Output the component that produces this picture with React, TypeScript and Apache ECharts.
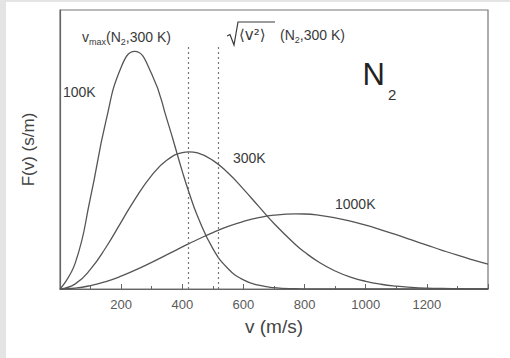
import React, { useEffect, useRef } from "react";
import * as echarts from "echarts";

// speeds (m/s) at which the curves were read (extra samples at the peaks)
const speeds = [0, 50, 100, 150, 200, 244, 300, 350, 400, 422, 450, 500, 550, 600, 650, 700, 770, 800, 850, 900, 950, 1000, 1050, 1100, 1150, 1200, 1250, 1300, 1350, 1400];
// F(v) in 1e-3 s/m
const f100K = [0, 0.374, 1.318, 2.402, 3.18, 3.407, 3.083, 2.428, 1.687, 1.384, 1.044, 0.579, 0.29, 0.131, 0.054, 0.02, 0.004, 0.002, 0, 0, 0, 0, 0, 0, 0, 0, 0, 0, 0, 0];
const f300K = [0, 0.074, 0.284, 0.595, 0.959, 1.279, 1.63, 1.848, 1.956, 1.967, 1.95, 1.844, 1.662, 1.432, 1.184, 0.94, 0.638, 0.529, 0.376, 0.258, 0.171, 0.11, 0.068, 0.041, 0.024, 0.013, 0.007, 0.004, 0.002, 0.001];
const f1000K = [0, 0.012, 0.049, 0.107, 0.184, 0.266, 0.382, 0.492, 0.603, 0.651, 0.71, 0.809, 0.897, 0.968, 1.023, 1.059, 1.077, 1.075, 1.056, 1.021, 0.974, 0.916, 0.849, 0.778, 0.703, 0.629, 0.555, 0.484, 0.418, 0.356];
// characteristic speeds of N2 at 300 K (m/s)
const vMax300 = 421;
const vRms300 = 517;
const xTicks = [200, 400, 600, 800, 1000, 1200];

const CURVE = "#555";
const TXT = "#3a3a3a";
const FONT = "Liberation Sans, Arial, sans-serif";

export default function App() {
  const ref = useRef<HTMLDivElement>(null);
  useEffect(() => {
    if (!ref.current) return;
    const chart = echarts.init(ref.current, null, { renderer: "svg" });
    const pairs = (ys: number[]) => speeds.map((v, i) => [v, ys[i]]);
    const lineSeries = (name: string, ys: number[], extra: any = {}) => ({
      name,
      type: "line",
      data: pairs(ys),
      smooth: 0.5,
      showSymbol: false,
      lineStyle: { color: CURVE, width: 1.3 },
      silent: true,
      ...extra,
    });
    const sub = { fontSize: 9, fontFamily: FONT, fill: TXT, color: TXT, verticalAlign: "bottom", lineHeight: 10 };
    chart.setOption({
      animation: false,
      backgroundColor: "#ffffff",
      grid: { left: 60, right: 22, top: 10, bottom: 69, show: true, borderColor: "#777", borderWidth: 1.2, backgroundColor: "transparent" },
      xAxis: {
        type: "value",
        min: 0,
        max: 1400,
        interval: 200,
        name: "v (m/s)",
        nameLocation: "middle",
        nameGap: 28,
        nameTextStyle: { fontSize: 19, color: "#444", fontFamily: FONT },
        axisLine: { show: true, lineStyle: { color: "#666", width: 1.2 } },
        axisTick: { show: true, inside: true, length: 5, lineStyle: { color: "#666" } },
        minorTick: { show: true, splitNumber: 2, length: 3, lineStyle: { color: "#666" } },
        splitLine: { show: false },
        axisLabel: {
          color: "#5a5a5a",
          fontSize: 13,
          fontFamily: FONT,
          margin: 9,
          showMinLabel: false,
          showMaxLabel: false,
          formatter: (v: number) => (xTicks.includes(v) ? String(v) : ""),
        },
      },
      yAxis: {
        type: "value",
        min: 0,
        max: 4,
        name: "F(v) (s/m)",
        nameLocation: "middle",
        nameRotate: 90,
        nameGap: 23,
        nameTextStyle: { fontSize: 17, color: "#444", fontFamily: FONT },
        axisLine: { show: true, lineStyle: { color: "#666", width: 1.2 } },
        axisTick: { show: false },
        axisLabel: { show: false },
        splitLine: { show: false },
      },
      series: [
        lineSeries("100K", f100K, {
          markLine: {
            silent: true,
            symbol: "none",
            label: { show: false },
            lineStyle: { color: "#777", type: [2, 3], width: 1.2 },
            data: [
              [{ coord: [vMax300, 0] }, { coord: [vMax300, 3.48] }],
              [{ coord: [vRms300, 0] }, { coord: [vRms300, 3.48] }],
            ],
          },
        }),
        lineSeries("300K", f300K),
        lineSeries("1000K", f1000K),
      ],
      graphic: [
        { type: "rect", left: 0, top: 0, shape: { x: 0, y: 0, width: 6, height: 358 }, style: { fill: "#e4e4e4" }, silent: true },
        { type: "rect", left: 0, top: 0, shape: { x: 0, y: 0, width: 510, height: 2 }, style: { fill: "#e4e4e4" }, silent: true },
        { type: "text", x: 63, y: 92, style: { text: "100K", font: `14px ${FONT}`, fill: TXT, align: "left", verticalAlign: "middle" } },
        { type: "text", x: 233, y: 158, style: { text: "300K", font: `14px ${FONT}`, fill: TXT, align: "left", verticalAlign: "middle" } },
        { type: "text", x: 335, y: 204, style: { text: "1000K", font: `14px ${FONT}`, fill: TXT, align: "left", verticalAlign: "middle" } },
        { type: "text", x: 385, y: 74, style: { text: "N", font: `31px ${FONT}`, fill: "#222", align: "right", verticalAlign: "middle" } },
        { type: "text", x: 388, y: 94, style: { text: "2", font: `15px ${FONT}`, fill: "#333", align: "left", verticalAlign: "middle" } },
        {
          type: "text",
          x: 82,
          y: 37,
          style: {
            text: "v{sub|max}(N{sub|2},300 K)",
            font: `14px ${FONT}`,
            fill: TXT,
            align: "left",
            verticalAlign: "middle",
            lineHeight: 18,
            rich: { sub },
          },
        },
        {
          type: "polyline",
          shape: { points: [[227, 36], [230, 34.5], [234, 45], [238, 22], [275, 22]] },
          style: { stroke: TXT, lineWidth: 1.2, fill: null },
          silent: true,
        },
        { type: "text", x: 239, y: 35, style: { text: "⟨v²⟩", font: `15px DejaVu Sans, ${FONT}`, fill: TXT, align: "left", verticalAlign: "middle" } },
        {
          type: "text",
          x: 280,
          y: 35,
          style: {
            text: "(N{sub|2},300 K)",
            font: `14px ${FONT}`,
            fill: TXT,
            align: "left",
            verticalAlign: "middle",
            lineHeight: 18,
            rich: { sub },
          },
        },
      ],
    });
    return () => chart.dispose();
  }, []);
  return (
    <div
      ref={ref}
      style={{ position: "fixed", left: 0, top: 0, width: 510, height: 358, background: "#fff" }}
    />
  );
}
